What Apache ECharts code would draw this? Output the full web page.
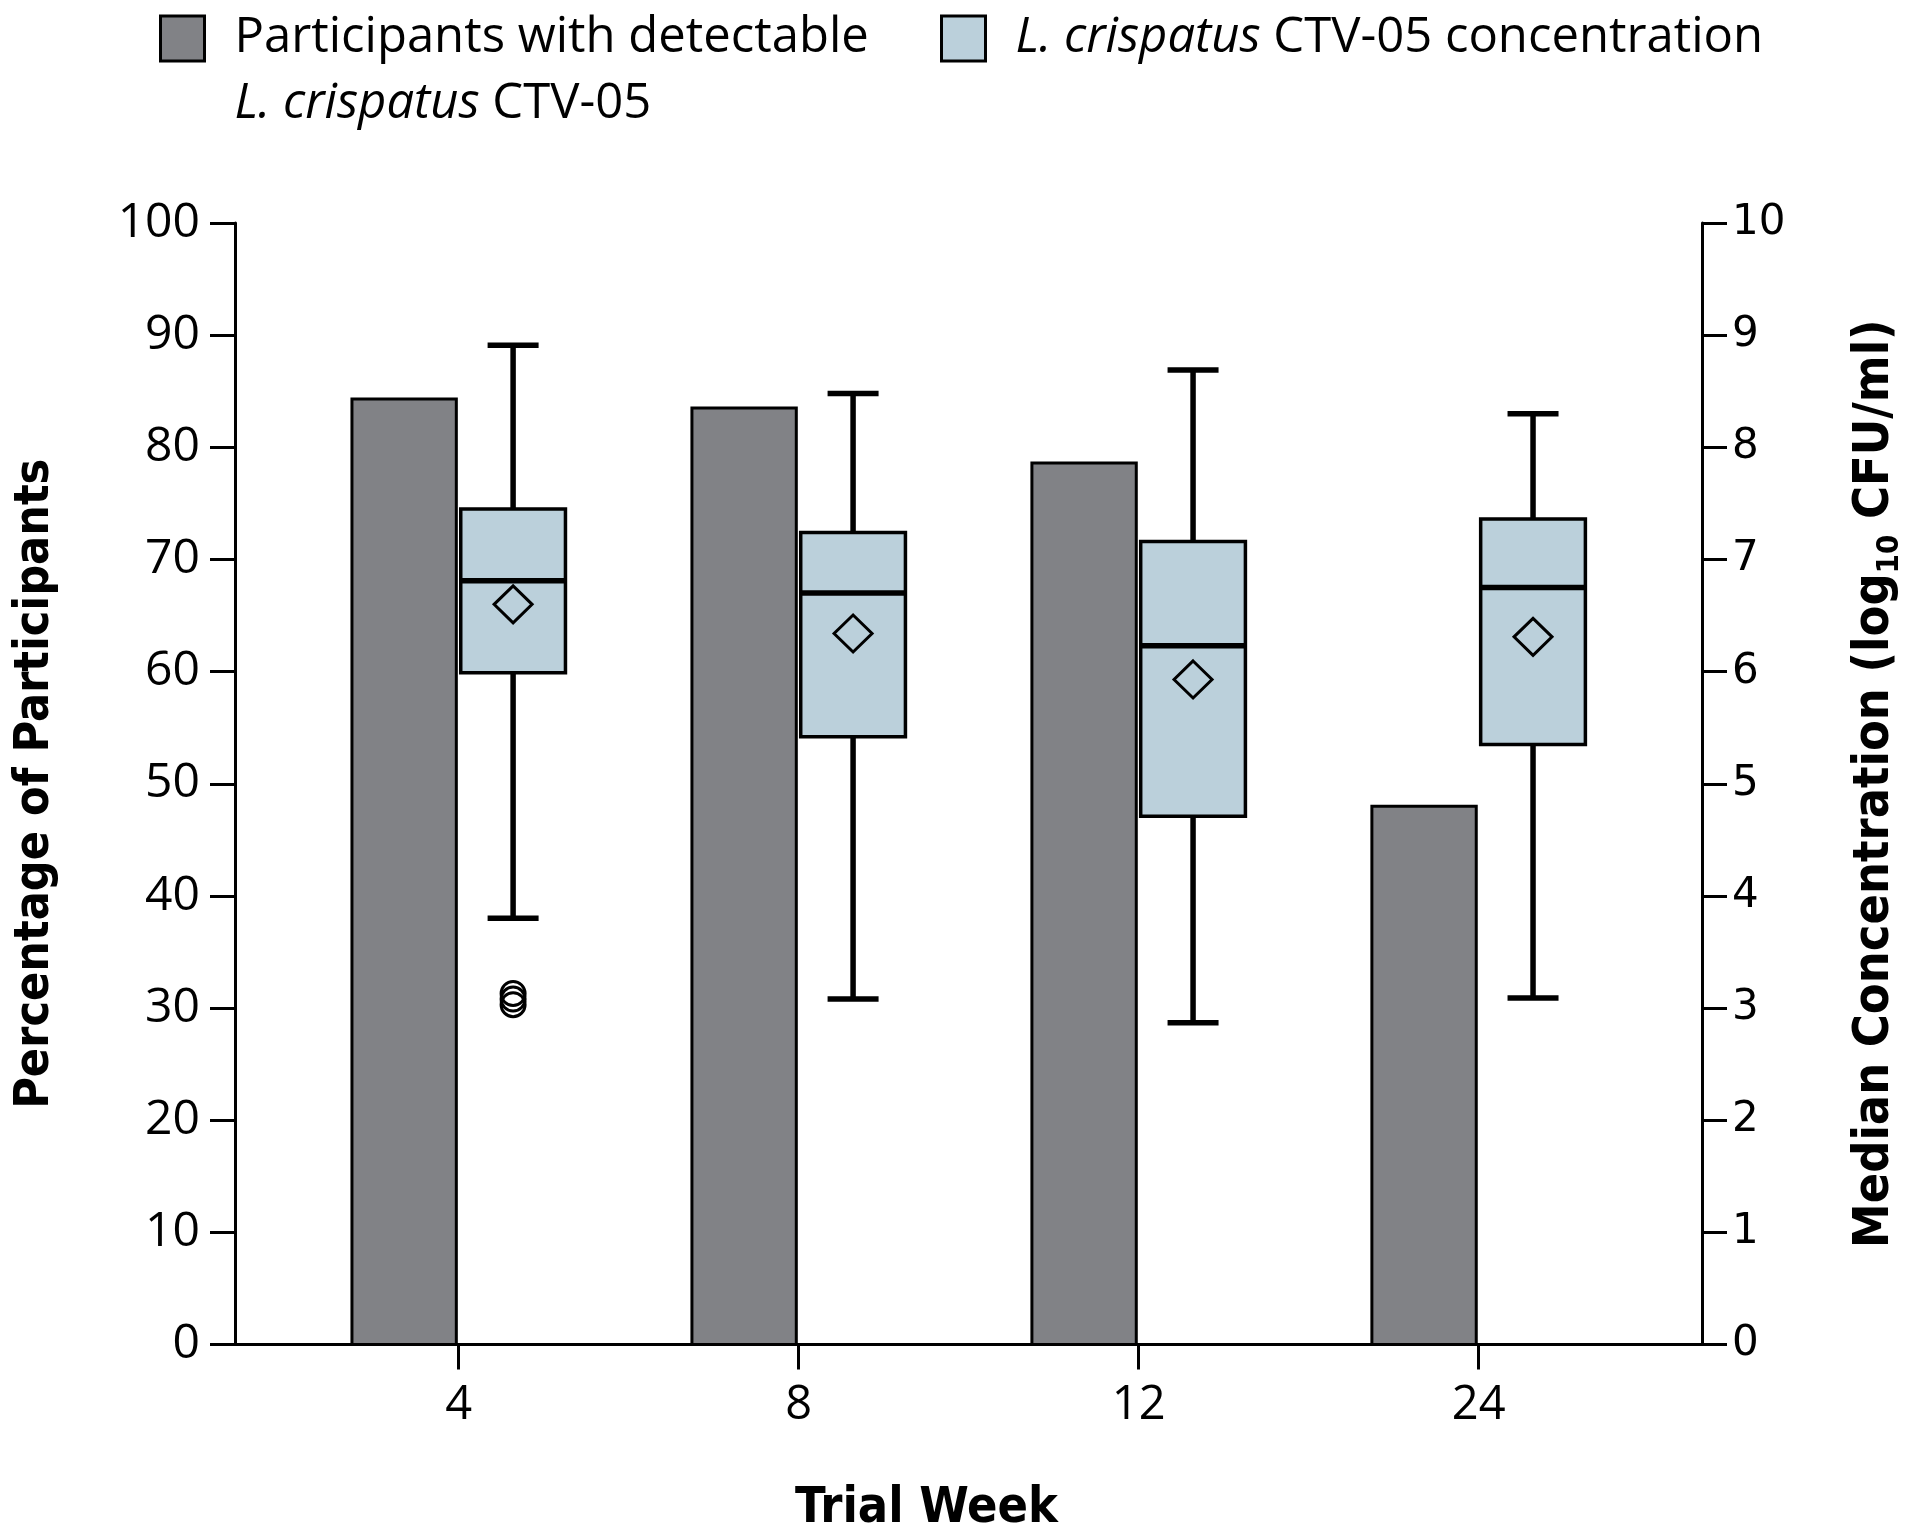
<!DOCTYPE html>
<html><head><meta charset="utf-8">
<script src="https://cdn.jsdelivr.net/npm/echarts@6/dist/echarts.min.js"></script>
<style>html,body{margin:0;padding:0;background:#fff}#chart{width:1920px;height:1535px}</style>
</head><body><div id="chart"></div>
<script>
// ---- data ----
const weeks = ['4', '8', '12', '24'];
const pctDetectable = [84.3, 83.5, 78.6, 48.0];
const whiskerLow = [3.80, 3.08, 2.87, 3.09];
const q1 = [5.99, 5.42, 4.71, 5.35];
const median = [6.81, 6.70, 6.23, 6.75];
const q3 = [7.45, 7.24, 7.16, 7.36];
const whiskerHigh = [8.91, 8.48, 8.69, 8.30];
const meanVal = [6.60, 6.34, 5.93, 6.31];
const outlierWeekIdx = [0, 0, 0];
const outlierVal = [3.13, 3.08, 3.03];
const leftTickValues = [0, 10, 20, 30, 40, 50, 60, 70, 80, 90, 100];
const rightTickValues = [0, 1, 2, 3, 4, 5, 6, 7, 8, 9, 10];

const NAME_BAR = 'Participants with detectable L. crispatus CTV-05';
const NAME_BOX = 'L. crispatus CTV-05 concentration';

// ---- styling / layout constants ----
const BAR_COLOR = '#818286';
const BOX_COLOR = '#bbd0db';
const BAR_L = -0.314, BAR_R = -0.007;
const BOX_L = 0.006, BOX_R = 0.314, BOX_C = 0.160, CAP_HALF = 0.075;

const chart = echarts.init(document.getElementById('chart'), null, {renderer: 'canvas'});

const legendText = {
  fontFamily: 'Open Sans', fontSize: 49, color: '#000', lineHeight: 66,
  rich: { i: { fontFamily: 'Open Sans', fontSize: 49, fontStyle: 'italic', color: '#000', lineHeight: 66 } }
};

const option = {
  backgroundColor: '#fff',
  animation: false,
  grid: { left: 235, top: 223, width: 1467, height: 1121.5, containLabel: false, outerBoundsMode: 'none' },
  legend: [
    {
      data: [{ name: NAME_BAR, icon: 'rect', itemStyle: { color: BAR_COLOR, borderColor: '#000', borderWidth: 3 } }],
      left: 159, top: -60.5, padding: 0, itemWidth: 44, itemHeight: 45, selectedMode: false,
      formatter: () => 'Participants with detectable\n{i|L. crispatus} CTV-05',
      textStyle: Object.assign({}, legendText, { padding: [66, 0, 0, 25] })
    },
    {
      data: [{ name: NAME_BOX, icon: 'rect', itemStyle: { color: BOX_COLOR, borderColor: '#000', borderWidth: 3 } }],
      left: 940, top: 5.5, padding: 0, itemWidth: 44, itemHeight: 45, selectedMode: false,
      formatter: () => '{i|L. crispatus} CTV-05 concentration',
      textStyle: Object.assign({}, legendText, { padding: [0, 0, 0, 25] })
    }
  ],
  xAxis: {
    type: 'value', min: -0.658, max: 3.657,
    axisLine: { show: true, onZero: false, lineStyle: { color: '#000', width: 3 } },
    axisTick: { show: true, customValues: [0, 1, 2, 3], length: 25, lineStyle: { color: '#000', width: 3 } },
    axisLabel: { show: true, customValues: [0, 1, 2, 3], formatter: v => weeks[Math.round(v)], margin: 38,
      fontFamily: 'Open Sans', fontSize: 47, color: '#000' },
    splitLine: { show: false },
    name: 'Trial Week', nameLocation: 'middle', nameGap: 140, nameMoveOverlap: false,
    nameTextStyle: { fontFamily: 'DejaVu Sans Condensed', fontWeight: 'bold', fontSize: 50, color: '#000', padding: [0, 84, 0, 0] }
  },
  yAxis: [
    {
      type: 'value', position: 'left', min: 0, max: 100, interval: 10,
      axisLine: { show: true, onZero: false, lineStyle: { color: '#000', width: 3 } },
      axisTick: { show: true, length: 25, lineStyle: { color: '#000', width: 3 } },
      axisLabel: { margin: 35, fontFamily: 'Open Sans', fontSize: 48, color: '#000',
        formatter: v => String(leftTickValues[Math.round(v / 10)]) },
      splitLine: { show: false },
      name: 'Percentage of Participants', nameLocation: 'middle', nameGap: 175, nameRotate: 90, nameMoveOverlap: false,
      nameTextStyle: { fontFamily: 'DejaVu Sans Condensed', fontWeight: 'bold', fontSize: 48, color: '#000' }
    },
    {
      type: 'value', position: 'right', min: 0, max: 10, interval: 1,
      axisLine: { show: true, onZero: false, lineStyle: { color: '#000', width: 3 } },
      axisTick: { show: true, length: 25, lineStyle: { color: '#000', width: 3 } },
      axisLabel: { margin: 30, fontFamily: 'DejaVu Sans', fontSize: 42, color: '#000',
        formatter: v => String(rightTickValues[Math.round(v)]) },
      splitLine: { show: false },
      name: 'Median Concentration (log{sub|10} CFU/ml)', nameLocation: 'middle', nameGap: 143, nameRotate: 90, nameMoveOverlap: false,
      nameTextStyle: { fontFamily: 'DejaVu Sans Condensed', fontWeight: 'bold', fontSize: 50, color: '#000', lineHeight: 60,
        rich: { sub: { fontFamily: 'DejaVu Sans Condensed', fontWeight: 'bold', fontSize: 31, color: '#000', lineHeight: 31, verticalAlign: 'bottom' } } }
    }
  ],
  series: [
    {
      type: 'custom', name: NAME_BAR, xAxisIndex: 0, yAxisIndex: 0, clip: false,
      itemStyle: { color: BAR_COLOR },
      encode: { x: 0, y: 1 },
      data: pctDetectable.map((v, i) => [i, v]),
      renderItem: function (params, api) {
        const i = api.value(0), v = api.value(1);
        const p0 = api.coord([i + BAR_L, v]);
        const p1 = api.coord([i + BAR_R, 0]);
        return { type: 'rect', shape: { x: p0[0], y: p0[1], width: p1[0] - p0[0], height: p1[1] - p0[1] },
          style: { fill: BAR_COLOR, stroke: '#000', lineWidth: 3 } };
      }
    },
    {
      type: 'custom', name: NAME_BOX, xAxisIndex: 0, yAxisIndex: 1, clip: false,
      itemStyle: { color: BOX_COLOR },
      encode: { x: 0, y: [1, 2, 3, 4, 5, 6] },
      data: weeks.map((w, i) => [i, whiskerLow[i], q1[i], median[i], q3[i], whiskerHigh[i], meanVal[i]]),
      renderItem: function (params, api) {
        const i = api.value(0);
        const lo = api.value(1), a = api.value(2), md = api.value(3), b = api.value(4), hi = api.value(5), mn = api.value(6);
        const xl = api.coord([i + BOX_L, 0])[0], xr = api.coord([i + BOX_R, 0])[0];
        const xc = api.coord([i + BOX_C, 0])[0];
        const cl = api.coord([i + BOX_C - CAP_HALF, 0])[0], cr = api.coord([i + BOX_C + CAP_HALF, 0])[0];
        const yLo = api.coord([i, lo])[1], yA = api.coord([i, a])[1], yM = api.coord([i, md])[1];
        const yB = api.coord([i, b])[1], yHi = api.coord([i, hi])[1], yMn = api.coord([i, mn])[1];
        const ln = { stroke: '#000', lineWidth: 5.5 };
        const dx = 19, dy = 18.5;
        return { type: 'group', children: [
          { type: 'line', shape: { x1: xc, y1: yHi, x2: xc, y2: yB }, style: ln },
          { type: 'line', shape: { x1: xc, y1: yA, x2: xc, y2: yLo }, style: ln },
          { type: 'line', shape: { x1: cl, y1: yHi, x2: cr, y2: yHi }, style: ln },
          { type: 'line', shape: { x1: cl, y1: yLo, x2: cr, y2: yLo }, style: ln },
          { type: 'rect', shape: { x: xl, y: yB, width: xr - xl, height: yA - yB }, style: { fill: BOX_COLOR, stroke: '#000', lineWidth: 3.5 } },
          { type: 'line', shape: { x1: xl, y1: yM, x2: xr, y2: yM }, style: { stroke: '#000', lineWidth: 5.5 } },
          { type: 'polygon', shape: { points: [[xc, yMn - dy], [xc + dx, yMn], [xc, yMn + dy], [xc - dx, yMn]] },
            style: { fill: 'none', stroke: '#000', lineWidth: 3 } }
        ] };
      }
    },
    {
      type: 'custom', name: 'outliers', xAxisIndex: 0, yAxisIndex: 1, clip: false,
      encode: { x: 0, y: 1 },
      data: outlierVal.map((v, k) => [outlierWeekIdx[k], v]),
      renderItem: function (params, api) {
        const i = api.value(0), v = api.value(1);
        const p = api.coord([i + BOX_C, v]);
        return { type: 'circle', shape: { cx: p[0], cy: p[1], r: 12 }, style: { fill: 'none', stroke: '#000', lineWidth: 3 } };
      }
    }
  ]
};
chart.setOption(option);
</script>
</body></html>
